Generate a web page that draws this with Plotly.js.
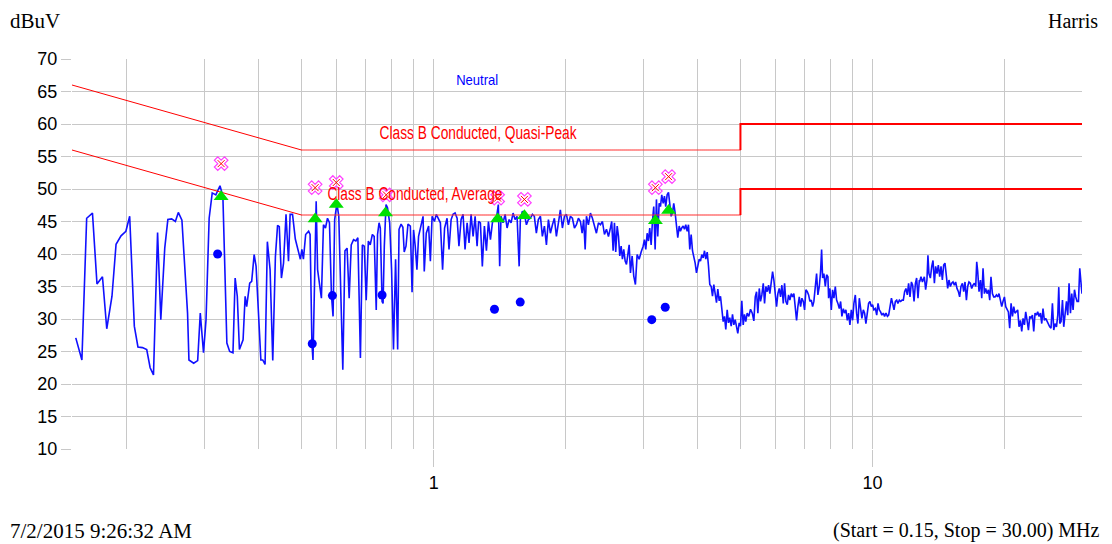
<!DOCTYPE html>
<html>
<head>
<meta charset="utf-8">
<script src="https://cdn.plot.ly/plotly-3.0.1.min.js"></script>
<style>
html,body{margin:0;padding:0;background:#fff;}
#chart{width:1112px;height:544px;}
</style>
</head>
<body>
<div id="chart"></div>
<script>
// Spectrum sweep (Neutral), MHz / dBuV
var freqMHz = [
0.153,0.158,0.162,0.167,0.171,0.176,0.180,0.185,0.189,0.194,0.199,0.203,0.208,0.212,0.217,0.222,0.226,0.230,0.235,0.239,0.244,0.248,0.253,0.258,0.262,0.267,0.275,0.277,0.284,0.290,0.294,0.299,0.303,0.308,0.313,0.319,0.326,0.331,0.338,0.343,0.349,0.353,0.357,0.361,
0.368,0.372,0.375,0.381,0.385,0.390,0.394,0.399,0.404,0.408,0.413,0.418,0.424,0.430,0.436,0.441,0.445,0.450,0.455,0.461,0.467,0.471,0.477,0.484,0.490,0.497,0.501,0.505,0.511,0.519,0.523,0.528,0.531,0.535,0.540,0.544,0.548,0.555,0.561,0.567,0.573,0.579,0.585,0.590,0.595,0.602,0.608,0.615,0.621,0.628,0.635,0.642,0.649,0.657,0.665,0.672,0.681,0.688,0.695,0.702,0.710,0.717,0.725,0.732,0.740,0.745,0.751,0.756,0.763,0.767,0.772,0.779,0.785,0.794,0.802,0.810,0.819,0.828,0.834,0.843,0.851,0.857,0.865,0.874,0.885,
0.893,0.900,0.908,0.916,0.924,0.936,0.946,0.952,0.962,0.974,0.983,0.992,1.004,1.014,1.025,1.036,1.048,1.059,1.073,1.084,1.096,1.107,1.119,1.131,1.142,1.155,1.167,1.179,1.192,1.204,1.217,1.230,1.243,1.256,1.266,1.278,1.291,1.305,1.319,1.333,1.347,1.361,1.375,1.390,1.404,1.414,1.424,1.439,1.455,1.470,1.486,1.501,1.517,1.533,1.549,1.566,1.576,1.593,1.610,1.627,1.644,1.661,1.679,1.696,1.714,1.732,1.751,1.769,1.788,1.807,1.826,1.845,1.865,1.884,1.904,1.924,1.944,1.965,1.986,2.007,2.028,2.049,2.071,2.093,2.115,2.137,2.160,
2.179,2.197,2.214,2.229,2.252,2.276,2.300,2.324,2.349,2.374,2.399,2.424,2.450,2.476,2.502,2.528,2.545,2.564,2.582,2.599,2.619,2.637,2.655,2.674,2.692,2.711,2.731,2.750,2.768,2.789,2.808,2.833,2.857,2.882,2.908,2.939,2.970,3.001,3.022,3.043,3.065,3.086,3.107,3.130,3.151,3.173,3.196,3.218,3.240,3.264,3.287,3.309,3.334,3.356,3.379,3.404,3.428,3.451,3.476,3.500,3.524,3.550,3.575,3.599,3.626,3.650,3.675,3.702,3.728,3.753,3.781,3.807,3.833,3.861,3.888,3.914,3.943,3.970,3.997,4.027,4.055,4.082,4.112,4.141,4.169,4.200,4.228,4.257,4.289,4.318,4.348,4.380,4.410,4.440,4.473,4.503,4.534,4.567,4.599,4.630,4.664,4.696,4.728,4.763,4.796,4.829,4.864,4.897,4.931,4.967,5.001,5.036,5.073,5.107,5.142,5.180,5.224,5.272,
5.320,5.364,5.404,5.441,5.478,5.519,5.556,5.594,5.636,5.674,5.713,5.755,5.795,5.834,5.877,5.918,5.958,6.002,6.043,6.085,6.129,6.171,6.214,6.260,6.302,6.346,6.392,6.436,6.480,6.528,6.573,6.618,6.666,6.712,6.758,6.808,6.855,6.902,6.953,7.000,7.048,7.100,7.149,7.198,7.251,7.301,7.350,7.405,7.455,7.506,7.562,7.613,7.654,7.694,7.746,7.804,7.857,7.911,7.940,7.994,8.053,8.108,8.164,8.224,8.280,8.337,8.398,8.456,8.514,8.577,8.635,8.694,8.759,8.818,8.879,8.944,9.006,9.067,9.134,9.196,9.259,9.328,9.392,9.456,9.526,9.591,9.656,9.728,9.794,9.863,9.936,10.00,10.07,10.15,10.22,10.29,10.36,10.43,10.50,10.58,10.65,10.73,10.81,10.88,10.96,11.04,11.11,11.19,11.27,11.35,11.42,11.51,11.59,11.67,11.75,11.83,11.91,12.00,12.08,12.17,12.26,12.34,12.43,12.52,12.60,12.69,12.78,
12.80,12.89,12.99,13.12,13.21,13.30,13.37,13.44,13.54,13.64,13.73,13.83,13.92,14.02,14.12,14.22,14.32,14.42,14.52,14.62,14.73,14.83,14.93,15.04,15.14,15.25,15.36,15.46,15.57,15.69,15.79,15.90,16.02,16.13,16.24,16.36,16.47,16.58,16.70,16.82,16.93,17.06,17.18,17.27,17.36,17.48,17.61,17.73,17.85,17.98,18.10,18.23,18.36,18.49,18.61,18.75,18.88,19.01,19.15,19.28,19.41,19.56,19.69,19.82,19.97,20.11,20.25,20.39,20.53,20.68,20.83,20.97,21.11,21.27,21.41,21.56,21.72,21.87,22.02,22.18,22.33,22.49,22.65,22.81,22.96,23.13,23.29,23.45,23.62,23.78,23.95,24.12,24.29,24.45,24.63,24.80,24.97,25.16,25.33,25.50,25.69,25.87,26.04,26.24,26.42,26.56,26.70,26.88,27.08,27.26,27.45,27.65,27.84,28.03,28.24,28.43,28.63,28.84,29.03,29.23,29.45,29.65,29.85,30.00
];
var levelDBuV = [
27.1,23.7,45.5,46.3,35.4,36.5,28.5,33.5,41.5,42.8,43.5,45.8,28.9,25.7,25.6,25.3,22.5,21.4,43.3,29.9,40.9,45.3,45.4,45.0,46.4,45.2,30.9,23.7,23.2,23.6,30.9,24.8,29.9,45.5,49.4,49.1,50.5,48.9,26.3,25.0,24.8,36.3,33.5,25.3,
26.8,33.5,31.9,35.5,35.8,39.9,38.1,30.4,23.7,23.7,23.0,41.9,37.6,23.6,39.6,44.4,44.2,36.3,38.6,46.1,38.9,46.1,46.1,42.3,40.9,39.2,40.7,39.2,43.0,43.5,43.0,26.3,23.7,37.6,48.1,37.6,35.8,33.2,44.5,44.0,45.5,44.8,33.7,30.4,45.3,47.8,45.8,31.4,22.2,40.5,40.9,33.2,41.4,42.2,42.0,42.5,24.0,41.4,41.2,32.9,42.0,41.4,43.0,42.7,31.4,43.0,44.8,44.0,32.7,32.4,41.2,47.6,47.1,44.8,37.6,25.3,39.2,25.3,43.8,44.6,44.1,40.3,41.2,44.6,44.3,
34.1,43.7,41.2,37.6,42.7,44.3,45.8,37.3,43.2,44.3,38.9,45.8,45.0,46.1,45.5,44.8,37.6,44.0,45.5,40.7,45.3,46.1,46.3,45.5,41.2,45.3,46.1,40.7,44.8,41.7,46.1,42.7,45.8,41.2,45.0,44.8,38.1,44.3,40.5,45.0,42.2,44.8,45.5,45.5,47.6,38.1,45.8,44.8,46.1,44.0,45.3,44.8,46.3,45.3,45.8,38.1,45.3,46.6,46.1,44.5,45.3,45.5,46.1,45.8,43.2,45.3,45.8,42.7,44.3,41.4,45.3,43.2,44.5,45.5,42.7,45.0,46.8,44.0,45.8,46.1,44.5,45.8,45.5,44.0,44.5,45.5,45.0,
43.2,45.3,40.7,45.8,44.5,46.3,45.5,44.5,43.2,44.8,44.5,45.0,43.0,43.8,42.7,44.0,45.0,40.5,44.8,40.3,44.3,42.7,39.7,41.2,39.2,40.7,38.9,38.4,40.3,41.4,37.1,39.7,36.6,35.3,39.9,39.2,40.3,41.2,42.2,40.7,43.2,42.0,44.0,41.4,45.0,47.3,40.7,48.4,42.7,47.8,47.3,49.1,47.8,48.9,47.3,49.1,49.5,47.3,45.8,46.3,47.8,46.3,44.5,42.5,44.3,43.5,44.0,44.3,43.8,44.5,43.5,44.5,40.7,43.0,40.5,39.7,38.6,37.1,38.4,39.2,38.9,39.9,39.4,40.5,39.2,40.3,38.2,35.3,35.0,33.5,35.3,34.1,32.5,34.6,32.8,33.5,31.9,29.6,30.4,28.4,31.4,29.4,30.2,28.9,30.7,29.1,29.9,28.9,27.8,29.4,28.9,32.8,29.1,30.7,29.6,30.9,30.4,31.5,
30.9,29.7,33.4,34.2,30.9,34.7,32.7,33.7,35.5,32.4,35.0,34.2,35.2,33.9,35.5,37.3,36.0,34.2,31.9,33.9,34.7,33.4,35.2,32.4,35.5,32.7,32.2,33.7,32.9,33.9,33.4,33.9,31.4,29.8,31.9,33.4,31.9,33.2,32.7,31.4,34.5,34.2,33.7,32.7,32.9,31.9,32.7,34.5,37.0,33.7,35.0,37.3,40.7,36.3,37.0,35.0,36.8,36.5,33.2,34.7,31.4,34.5,33.2,35.0,32.9,32.4,31.6,32.7,30.4,31.6,30.9,31.4,29.8,30.9,29.1,31.4,29.8,32.4,33.7,30.9,29.3,33.2,31.1,30.1,31.4,30.9,29.3,31.4,32.4,32.7,31.9,32.2,31.4,31.6,30.6,32.4,31.4,31.1,30.6,30.9,30.4,30.9,30.4,30.6,31.9,33.2,32.4,31.4,32.7,32.9,32.4,32.9,32.7,32.9,32.9,34.2,34.7,33.7,35.5,33.4,35.7,35.2,32.7,35.5,36.3,33.2,36.0,
35.7,36.5,35.7,36.5,34.5,36.0,39.8,37.0,36.3,38.1,39.0,35.5,38.1,37.0,38.3,36.5,38.1,36.0,38.3,38.6,36.5,34.7,36.0,35.0,35.5,35.7,35.2,35.7,34.7,34.2,33.4,35.0,35.5,34.2,35.7,32.9,35.0,35.7,35.5,34.7,35.2,35.5,35.0,38.8,37.3,34.2,36.0,33.2,37.8,33.9,34.7,33.9,34.5,32.9,36.5,33.9,33.4,33.4,33.7,33.4,33.9,32.7,31.9,32.7,33.4,31.9,31.4,31.1,28.6,32.4,30.4,31.9,30.9,31.1,31.4,28.8,29.8,28.1,30.1,29.1,31.1,29.8,28.3,30.4,30.1,30.6,28.1,30.9,30.6,31.1,30.4,30.9,29.3,31.6,29.8,30.1,29.6,29.1,28.8,28.6,32.4,28.3,29.3,28.8,30.6,34.9,29.3,29.6,32.9,28.8,31.1,32.7,30.6,35.5,30.9,33.9,31.4,34.5,33.4,32.7,32.7,37.8,35.5,33.9
];

// Limit lines (EN55022 Class B conducted)
var qpSlopeF = [0.15, 0.5];   var qpSlopeV = [66, 56];
var qpMidF   = [0.5, 5];      var qpMidV   = [56, 56];
var qpHighF  = [5, 5, 30];    var qpHighV  = [56, 60, 60];
var avSlopeF = [0.15, 0.5];   var avSlopeV = [56, 46];
var avMidF   = [0.5, 5];      var avMidV   = [46, 46];
var avHighF  = [5, 5, 30];    var avHighV  = [46, 50, 50];

// Final measurements
var qpMeasF = [0.328, 0.537, 0.600, 0.780, 1.399, 1.610, 3.20, 3.43];
var qpMeasV = [53.9, 50.2, 51.0, 49.1, 48.6, 48.4, 50.2, 51.9];
var pkF = [0.328, 0.537, 0.600, 0.777, 1.399, 1.610, 3.20, 3.43];
var pkV = [48.8, 45.4, 47.6, 46.3, 45.4, 45.9, 45.1, 46.7];
var avMeasF = [0.322, 0.529, 0.588, 0.763, 1.376, 1.575, 3.14, 3.37];
var avMeasV = [40.0, 26.2, 33.6, 33.7, 31.5, 32.6, 29.9, 31.8];

// Axis grid / ticks
var gridF = [0.15,0.2,0.3,0.4,0.5,0.6,0.7,0.8,0.9,1,2,3,4,5,6,7,8,9,10,20,30];
var majorTickF = [1, 10];
var majorTickText = ['1', '10'];

// Text labels
var yUnitLabel = 'dBuV';
var siteLabel = 'Harris';
var dateLabel = '7/2/2015 9:26:32 AM';
var rangeLabel = '(Start = 0.15, Stop = 30.00) MHz';
var traceLabel = 'Neutral';
var qpLimitLabel = 'Class B Conducted, Quasi-Peak';
var avLimitLabel = 'Class B Conducted, Average';

var RED = '#ff0000';
var traces = [
  {x:freqMHz, y:levelDBuV, type:'scatter', mode:'lines', line:{color:'#1010ff', width:1.6}, hoverinfo:'skip'},
  {x:qpSlopeF, y:qpSlopeV, mode:'lines', line:{color:RED, width:1}},
  {x:avSlopeF, y:avSlopeV, mode:'lines', line:{color:RED, width:1}},
  {x:qpMidF, y:qpMidV, mode:'lines', line:{color:'#ff3030', width:2, dash:'1px,1px'}},
  {x:avMidF, y:avMidV, mode:'lines', line:{color:'#ff3030', width:2, dash:'1px,1px'}},
  {x:qpHighF, y:qpHighV, mode:'lines', line:{color:RED, width:2}},
  {x:avHighF, y:avHighV, mode:'lines', line:{color:RED, width:2}},
  {x:avMeasF, y:avMeasV, mode:'markers', marker:{symbol:'circle', size:9, color:'#0000ff'}},
  {x:pkF, y:pkV, mode:'markers', marker:{symbol:'triangle-up', size:13, color:'#00e000'}},
  {x:qpMeasF, y:qpMeasV, mode:'markers', marker:{symbol:'x-open', size:12, color:'#ff40ff', line:{width:1.2}}},
  {x:qpMeasF, y:qpMeasV, mode:'markers', marker:{symbol:'x-thin-open', size:7, color:'#ff0000', line:{width:1}}}
];

var serif = 'Liberation Serif, Times New Roman, serif';
var sans = 'Liberation Sans, Arial, sans-serif';

var layout = {
  width:1112, height:544,
  margin:{l:72, r:30, t:59, b:95, pad:0},
  paper_bgcolor:'#ffffff', plot_bgcolor:'#ffffff',
  showlegend:false,
  xaxis:{
    type:'log', range:[Math.log10(0.15), Math.log10(30)],
    tickmode:'array', tickvals:majorTickF, ticktext:majorTickText,
    ticks:'outside', ticklen:17, tickwidth:1, tickcolor:'#c8c8c8',
    showgrid:true, gridcolor:'#c8c8c8', gridwidth:1,
    zeroline:false, showline:false,
    tickfont:{family:sans, size:18, color:'#000'},
    minor:{tickmode:'array', tickvals:gridF, showgrid:true, gridcolor:'#c8c8c8', gridwidth:1, ticks:''}
  },
  yaxis:{
    range:[10,70], tick0:10, dtick:5,
    ticks:'outside', ticklen:10, tickwidth:1, tickcolor:'#c8c8c8',
    showgrid:true, gridcolor:'#c8c8c8', gridwidth:1,
    zeroline:false, showline:false,
    tickfont:{family:sans, size:18, color:'#000'}
  },
  annotations:[
    {text:yUnitLabel, xref:'paper', yref:'paper', x:-0.0634, y:1.098, xanchor:'left', yanchor:'middle', showarrow:false, font:{family:serif, size:21, color:'#000'}},
    {text:siteLabel, xref:'paper', yref:'paper', x:1.0178, y:1.098, xanchor:'right', yanchor:'middle', showarrow:false, font:{family:serif, size:20, color:'#000'}},
    {text:dateLabel, xref:'paper', yref:'paper', x:-0.0634, y:-0.209, xanchor:'left', yanchor:'middle', showarrow:false, font:{family:serif, size:21, color:'#000'}},
    {text:rangeLabel, xref:'paper', yref:'paper', x:1.0198, y:-0.209, xanchor:'right', yanchor:'middle', showarrow:false, font:{family:serif, size:20, color:'#000'}},
    {text:traceLabel, xref:'paper', yref:'paper', x:0.401, y:0.947, xanchor:'center', yanchor:'middle', showarrow:false, font:{family:sans, size:15, color:'#0000ff'}},
    {text:qpLimitLabel, xref:'paper', yref:'paper', x:0.402, y:0.811, xanchor:'center', yanchor:'middle', showarrow:false, font:{family:sans, size:18, color:'#ff0000'}},
    {text:avLimitLabel, xref:'paper', yref:'paper', x:0.340, y:0.655, xanchor:'center', yanchor:'middle', showarrow:false, font:{family:sans, size:18, color:'#ff0000'}}
  ]
};

// squeezed widths of the condensed in-plot labels (px)
var squeezeWidths = {};
squeezeWidths[traceLabel] = 42;
squeezeWidths[qpLimitLabel] = 197;
squeezeWidths[avLimitLabel] = 175;

Plotly.newPlot('chart', traces, layout, {displayModeBar:false, staticPlot:true}).then(function(){
  var nodes = document.querySelectorAll('#chart .annotation-text');
  nodes.forEach(function(n){
    var t = n.textContent;
    if (squeezeWidths[t]) {
      n.setAttribute('textLength', squeezeWidths[t]);
      n.setAttribute('lengthAdjust', 'spacingAndGlyphs');
    }
  });
});
</script>
</body>
</html>
